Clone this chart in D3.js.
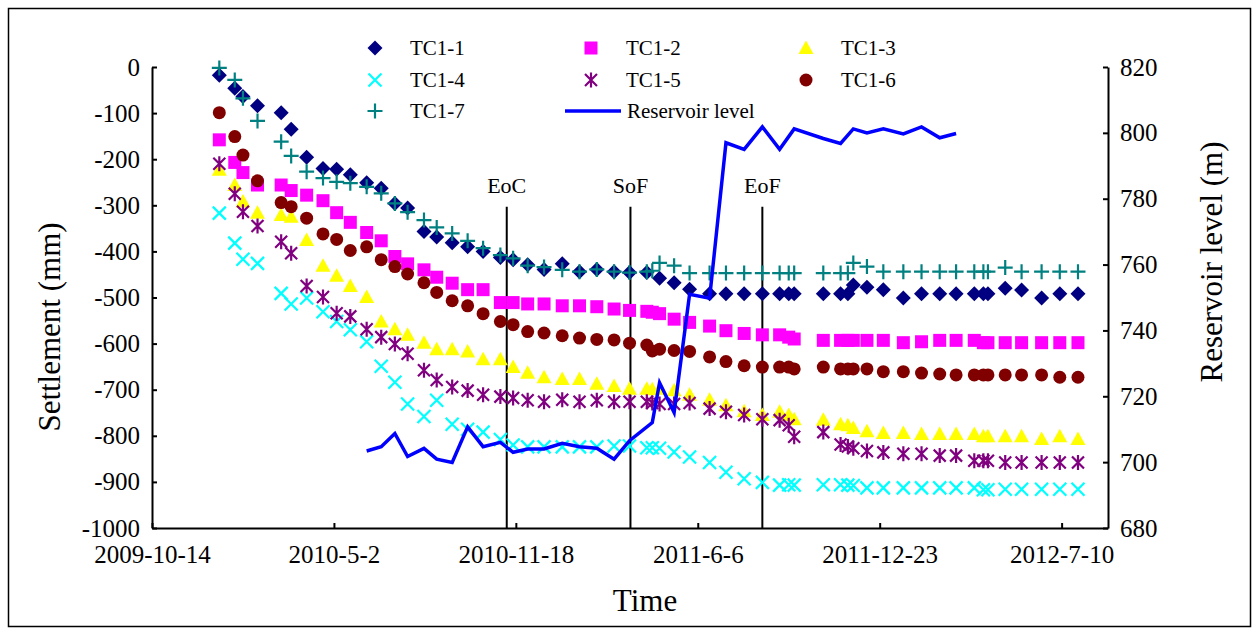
<!DOCTYPE html>
<html>
<head>
<meta charset="utf-8">
<script src="https://cdn.jsdelivr.net/npm/d3@7"></script>
<style>
  body { margin: 0; background: #fff; }
  svg { display: block; }
  text { font-family: "Liberation Serif", "Times New Roman", serif; fill: #000; }
</style>
</head>
<body>
<svg id="chart" width="1257" height="633"></svg>
<script>
// Survey dates shared by the settlement gauges
const surveyDates = [
  "2009-12-27","2010-01-13","2010-01-22","2010-02-07","2010-03-05","2010-03-16","2010-04-02","2010-04-20",
  "2010-05-05","2010-05-20","2010-06-07","2010-06-23","2010-07-08","2010-07-22","2010-08-09","2010-08-23",
  "2010-09-09","2010-09-26","2010-10-13","2010-11-01","2010-11-15","2010-12-01","2010-12-19","2011-01-08",
  "2011-01-27","2011-02-15","2011-03-06","2011-03-23","2011-04-11","2011-04-17","2011-04-25","2011-05-11",
  "2011-05-28","2011-06-19","2011-07-07","2011-07-27","2011-08-16","2011-09-04","2011-09-14","2011-09-20",
  "2011-10-22","2011-11-10","2011-11-18","2011-11-24","2011-12-09","2011-12-27","2012-01-18","2012-02-07",
  "2012-02-27","2012-03-16","2012-04-05","2012-04-15","2012-04-20","2012-05-09","2012-05-27","2012-06-18",
  "2012-07-08","2012-07-28"
];

// Settlement (mm) per gauge, one value per survey date (null = not surveyed)
const tc1_1 = [-18,-46,-64,-84,-99,-135,-196,-220,-222,-234,-251,-263,-296,-306,-357,-369,-381,-390,-400,-413,
  -418,-429,-439,-427,-444,-439,-444,-446,-446,null,-458,-468,-482,-492,-492,-492,-492,-492,-492,-492,
  -492,-492,-492,-473,-478,-483,-501,-492,-492,-492,-492,-492,-492,-480,-484,-501,-492,-492];
const tc1_2 = [-158,-207,-229,-256,-256,-268,-278,-290,-316,-337,-359,-377,-411,-427,-440,-456,-469,-483,-483,-511,
  -511,-514,-514,-518,-518,-520,-525,-528,-530,-532,-535,-547,-554,-562,-572,-578,-581,-581,-586,-590,
  -593,-593,-593,-593,-593,-593,-598,-596,-593,-593,-593,-598,-598,-598,-598,-598,-598,-598];
const tc1_3 = [-223,-256,-292,-316,-321,-325,-375,-431,-453,-475,-499,-552,-569,-581,-598,-612,-612,-617,-634,-634,
  -651,-663,-673,-677,-677,-687,-692,-698,-698,-699,-698,-701,-711,-722,-734,-747,-755,-748,-755,-764,
  -765,-775,-777,-783,-790,-794,-794,-796,-796,-796,-796,-801,-801,-801,-801,-807,-801,-807];
const tc1_4 = [-317,-382,-417,-426,-491,-514,-501,-531,-552,-570,-596,-649,-684,-731,-758,-723,-775,-786,-792,-808,
  -820,-824,-824,-824,-824,-824,-822,-822,-826,-826,-827,-835,-846,-858,-879,-893,-901,-907,-906,-907,
  -906,-906,-907,-908,-913,-913,-913,-913,-913,-913,-913,-917,-917,-916,-916,-916,-916,-916];
const tc1_5 = [-210,-275,-314,-345,-379,-404,-475,-499,-534,-541,-569,-586,-601,-622,-658,-679,-694,-702,-711,-715,
  -718,-723,-726,-722,-726,-723,-726,-726,-726,-729,-731,-731,-729,-741,-748,-755,-764,-766,-777,-802,
  -792,-819,-823,-827,-833,-836,-839,-839,-843,-843,-854,-854,-854,-858,-858,-858,-858,-858];
const tc1_6 = [-99,-151,-191,-247,-294,-303,-328,-362,-374,-398,-390,-418,-433,-449,-468,-489,-507,-518,-535,-552,
  -559,-574,-577,-583,-588,-591,-592,-599,-603,-616,-612,-615,-617,-629,-639,-648,-651,-651,-651,-655,
  -651,-655,-655,-655,-655,-661,-661,-664,-666,-668,-668,-668,-668,-668,-668,-668,-673,-673];
const tc1_7 = [-2,-28,-68,-117,-162,-193,-227,-241,-249,-252,-260,-274,-296,-315,-332,-348,-361,-377,-393,-408,
  -415,-431,-434,-440,-444,-439,-444,-446,-444,-442,-425,-431,-447,-447,-447,-447,-447,-447,-447,-447,
  -447,-447,-447,-425,-433,-444,-444,-444,-444,-444,-444,-444,-444,-435,-444,-444,-444,-444];

// Reservoir level (m)
const reservoirDates = [
  "2010-06-07","2010-06-23","2010-07-08","2010-07-22","2010-08-09","2010-08-23","2010-09-09","2010-09-26",
  "2010-10-13","2010-11-01","2010-11-15","2010-12-01","2010-12-19","2011-01-08","2011-01-27","2011-02-15",
  "2011-03-06","2011-03-23","2011-04-17","2011-04-25","2011-05-11","2011-05-28","2011-06-19","2011-07-07",
  "2011-07-27","2011-08-16","2011-09-04","2011-09-20","2011-10-22","2011-11-10","2011-11-24","2011-12-09",
  "2011-12-27","2012-01-18","2012-02-07","2012-02-27","2012-03-16"
];
const reservoirLevel = [703.4,704.7,708.7,701.7,704.2,700.9,699.9,710.7,704.7,706.0,703.0,704.0,704.0,705.7,704.7,704.2,
  700.9,706.5,712.0,724.1,715.1,751.0,749.8,797.0,795.0,801.8,795.0,801.2,798.3,796.8,801.2,800.0,
  801.2,799.7,801.8,798.5,799.8];

// Construction / filling milestones
const eventNames = ["EoC", "SoF", "EoF"];
const eventDates = ["2010-11-08", "2011-03-24", "2011-08-16"];
const eventTop = -303;

// Axis ticks
const xTickDates = ["2009-10-14","2010-05-02","2010-11-18","2011-06-06","2011-12-23","2012-07-10"];
const leftTicks = d3.range(-1000, 1, 100);
const rightTicks = d3.range(680, 821, 20);

const seriesNames = ["TC1-1","TC1-2","TC1-3","TC1-4","TC1-5","TC1-6","TC1-7"];
const seriesValues = [tc1_1, tc1_2, tc1_3, tc1_4, tc1_5, tc1_6, tc1_7];
const seriesColors = ["#000080","#FF00FF","#FFFF00","#00FFFF","#800080","#800000","#008080"];
const seriesShapes = ["diamond","square","triangle","x","asterisk","circle","plus"];

const parse = d3.timeParse("%Y-%m-%d");
const fmt = d3.timeFormat("%Y-%-m-%-d");
const numFmt = d => String(d);

const svg = d3.select("#chart");
const plot = { left: 152, right: 1108, top: 67, bottom: 528 };

const x = d3.scaleTime()
  .domain([parse("2009-10-14"), parse("2012-08-30")])
  .range([plot.left, plot.right]);
const yL = d3.scaleLinear().domain([-1000, 0]).range([plot.bottom, plot.top]);
const yR = d3.scaleLinear().domain([680, 820]).range([plot.bottom, plot.top]);

// Outer frame
svg.append("rect")
  .attr("x", 8.5).attr("y", 8.5).attr("width", 1242).attr("height", 618)
  .attr("fill", "none").attr("stroke", "#000").attr("stroke-width", 1.5);

// Marker shapes
function markerPath(shape) {
  switch (shape) {
    case "diamond": return "M0,-7.5L7.5,0L0,7.5L-7.5,0Z";
    case "square": return "M-6.5,-6.5H6.5V6.5H-6.5Z";
    case "triangle": return "M0,-7.5L7.5,6L-7.5,6Z";
    case "circle": return d3.symbol(d3.symbolCircle, Math.PI * 6.5 * 6.5)();
    case "x": return "M-6.5,-6.5L6.5,6.5M-6.5,6.5L6.5,-6.5";
    case "plus": return "M-7.5,0H7.5M0,-7.5V7.5";
    case "asterisk": return "M-6,-6L6,6M-6,6L6,-6M0,-7.5V7.5";
  }
}
const stroked = s => s === "x" || s === "plus" || s === "asterisk";

function drawMarker(g, shape, color) {
  const p = g.append("path").attr("d", markerPath(shape));
  if (stroked(shape)) p.attr("fill", "none").attr("stroke", color).attr("stroke-width", 2.2);
  else p.attr("fill", color).attr("stroke", "none");
  return p;
}

// Event lines
const ev = svg.append("g");
eventDates.forEach((d, i) => {
  const xx = x(parse(d));
  ev.append("line")
    .attr("x1", xx).attr("x2", xx)
    .attr("y1", yL(eventTop)).attr("y2", yL(-1000))
    .attr("stroke", "#000").attr("stroke-width", 2);
  ev.append("text")
    .attr("x", xx).attr("y", 193)
    .attr("text-anchor", "middle")
    .attr("font-size", 22)
    .text(eventNames[i]);
});

// Settlement series
const marks = svg.append("g");
seriesValues.forEach((vals, si) => {
  const pts = surveyDates.map((d, i) => ({ d: parse(d), v: vals[i] })).filter(p => p.v !== null);
  const g = marks.append("g");
  pts.forEach(p => {
    const m = g.append("g").attr("transform", `translate(${x(p.d)},${yL(p.v)})`);
    drawMarker(m, seriesShapes[si], seriesColors[si]);
  });
});

// Reservoir level on the secondary axis
const res = reservoirDates.map((d, i) => ({ d: parse(d), v: reservoirLevel[i] }));
svg.append("path")
  .datum(res)
  .attr("fill", "none")
  .attr("stroke", "#0000FF")
  .attr("stroke-width", 3.5)
  .attr("stroke-linejoin", "miter")
  .attr("d", d3.line().x(p => x(p.d)).y(p => yR(p.v)));

// Axes
function styleAxis(g) {
  g.attr("font-family", '"Liberation Serif", serif');
  g.select(".domain").attr("stroke", "#000").attr("stroke-width", 2);
  g.selectAll(".tick line").attr("stroke", "#000").attr("stroke-width", 2);
  g.selectAll(".tick text").attr("font-size", 25);
}

svg.append("g")
  .attr("transform", `translate(${plot.left},0)`)
  .call(d3.axisLeft(yL).tickValues(leftTicks).tickFormat(numFmt)
    .tickSizeInner(-5).tickSizeOuter(0).tickPadding(12))
  .call(styleAxis);

svg.append("g")
  .attr("transform", `translate(${plot.right},0)`)
  .call(d3.axisRight(yR).tickValues(rightTicks).tickFormat(numFmt)
    .tickSizeInner(-5).tickSizeOuter(0).tickPadding(12))
  .call(styleAxis);

svg.append("g")
  .attr("transform", `translate(0,${plot.bottom})`)
  .call(d3.axisBottom(x).tickValues(xTickDates.map(parse)).tickFormat(fmt)
    .tickSizeInner(-5).tickSizeOuter(0).tickPadding(17))
  .call(styleAxis);

// Axis titles
svg.append("text")
  .attr("transform", "translate(60,327) rotate(-90)")
  .attr("text-anchor", "middle").attr("font-size", 31)
  .text("Settlement (mm)");
svg.append("text")
  .attr("transform", "translate(1222,262) rotate(-90)")
  .attr("text-anchor", "middle").attr("font-size", 31)
  .text("Reservoir level (m)");
svg.append("text")
  .attr("x", 645).attr("y", 611)
  .attr("text-anchor", "middle").attr("font-size", 31)
  .text("Time");

// Legend
const legendCols = [375, 591, 806];
const legendRows = [48, 80, 111];
const legend = svg.append("g");
seriesNames.forEach((name, i) => {
  const cx = legendCols[i % 3], cy = legendRows[Math.floor(i / 3)];
  const m = legend.append("g").attr("transform", `translate(${cx},${cy})`);
  drawMarker(m, seriesShapes[i], seriesColors[i]);
  legend.append("text")
    .attr("x", cx + 35).attr("y", cy + 7)
    .attr("font-size", 21)
    .text(name);
});
legend.append("line")
  .attr("x1", 565).attr("x2", 621)
  .attr("y1", legendRows[2]).attr("y2", legendRows[2])
  .attr("stroke", "#0000FF").attr("stroke-width", 3.5);
legend.append("text")
  .attr("x", 627).attr("y", legendRows[2] + 7)
  .attr("font-size", 21)
  .text("Reservoir level");
</script>
</body>
</html>
